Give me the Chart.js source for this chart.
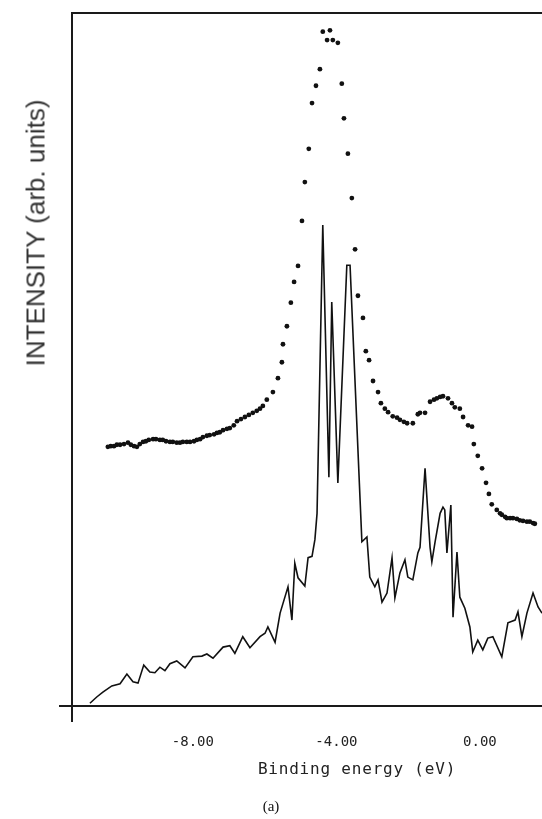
<!DOCTYPE html>
<html>
<head>
<meta charset="utf-8">
<script src="https://cdn.jsdelivr.net/npm/chart.js@4/dist/chart.umd.min.js"></script>
<style>
  body { margin: 0; background: #fff; }
  #wrap { position: relative; width: 542px; height: 819px; }
  #graf { position: absolute; left: 0; top: 0; }
  .ytitle {
    position: absolute; left: 36px; top: 233px;
    transform: translate(-50%, -50%) rotate(-90deg);
    font-family: "Liberation Sans", sans-serif; font-size: 26px; color: #333;
    white-space: nowrap;
  }
  .xtitle {
    position: absolute; left: 357px; top: 768px;
    transform: translate(-50%, -50%);
    font-family: "DejaVu Sans Mono", monospace; font-size: 16px; color: #222;
    letter-spacing: 0.8px; white-space: nowrap;
  }
  .legenda {
    position: absolute; left: 271px; top: 806px;
    transform: translate(-50%, -50%);
    font-family: "Liberation Serif", serif; font-size: 15px; color: #111;
  }
</style>
</head>
<body>
<div id="wrap">
  <canvas id="graf" width="542" height="819"></canvas>
  <div class="ytitle">INTENSITY (arb. units)</div>
  <div class="xtitle">Binding energy (eV)</div>
  <div class="legenda">(a)</div>
</div>
<script>
// pontos (curva de cima)
const energiaPontos = [
  -10.37, -10.29, -10.20, -10.12, -10.03, -9.92, -9.81, -9.73, -9.64, -9.56,
  -9.48, -9.39, -9.31, -9.23, -9.11, -9.03, -8.92, -8.84, -8.75, -8.64,
  -8.56, -8.45, -8.36, -8.28, -8.17, -8.08, -7.97, -7.89, -7.80, -7.72,
  -7.61, -7.53, -7.41, -7.33, -7.25, -7.16, -7.05, -6.97, -6.86, -6.77,
  -6.66, -6.55, -6.44, -6.33, -6.22, -6.13, -6.05, -5.94,
  -5.77, -5.63, -5.52, -5.49, -5.38, -5.27, -5.18, -5.07, -4.96, -4.88,
  -4.77, -4.68, -4.57, -4.46, -4.38, -4.26, -4.18, -4.10, -3.96, -3.85,
  -3.79, -3.68, -3.57, -3.48, -3.40, -3.26, -3.18, -3.09, -2.98, -2.84,
  -2.76, -2.65, -2.56, -2.43, -2.31, -2.23, -2.12, -2.03, -1.87, -1.73,
  -1.67, -1.53, -1.39, -1.28, -1.20, -1.11, -1.03, -0.89, -0.78, -0.70,
  -0.56, -0.47, -0.33, -0.22, -0.17, -0.06, 0.06, 0.17, 0.25, 0.33,
  0.47, 0.56, 0.61, 0.70, 0.75, 0.84, 0.92, 1.03, 1.11, 1.20,
  1.31, 1.39, 1.48, 1.53
];
const intensidadePontos = [
  37.4, 37.5, 37.5, 37.7, 37.7, 37.8, 38.0, 37.7, 37.5, 37.4,
  37.8, 38.1, 38.2, 38.4, 38.5, 38.5, 38.4, 38.4, 38.2, 38.1,
  38.1, 38.0, 38.0, 38.1, 38.1, 38.1, 38.2, 38.4, 38.5, 38.8,
  39.0, 39.1, 39.2, 39.4, 39.5, 39.8, 40.0, 40.1, 40.5, 41.1,
  41.4, 41.7, 42.0, 42.3, 42.6, 42.9, 43.3, 44.2,
  45.3, 47.3, 49.6, 52.2, 54.8, 58.2, 61.2, 63.5, 70.0, 75.6,
  80.4, 87.0, 89.5, 91.9, 97.3, 96.1, 97.5, 96.1, 95.7, 89.8,
  84.8, 79.7, 73.3, 65.9, 59.2, 56.0, 51.2, 49.9, 46.9, 45.3,
  43.7, 42.9, 42.4, 41.8, 41.6, 41.3, 41.0, 40.8, 40.8, 42.1,
  42.3, 42.3, 43.9, 44.2, 44.4, 44.6, 44.7, 44.4, 43.7, 43.1,
  42.9, 41.7, 40.5, 40.3, 37.8, 36.1, 34.3, 32.2, 30.6, 29.1,
  28.3, 27.8, 27.6, 27.3, 27.1, 27.1, 27.1, 27.0, 26.8, 26.7,
  26.6, 26.6, 26.4, 26.3
];

// linha (curva de baixo)
const energiaLinha = [
  -10.87, -10.68, -10.51, -10.26, -10.03, -9.84, -9.67, -9.53, -9.37, -9.20,
  -9.06, -8.92, -8.78, -8.64, -8.45, -8.22, -8.00, -7.75, -7.61, -7.44,
  -7.16, -6.97, -6.83, -6.61, -6.41, -6.13, -5.99, -5.91, -5.71, -5.57,
  -5.35, -5.24, -5.16, -5.07, -4.88, -4.79, -4.68, -4.60, -4.54, -4.38,
  -4.21, -4.13, -3.96, -3.71, -3.62, -3.34, -3.29, -3.15, -3.07, -2.93,
  -2.84, -2.73, -2.59, -2.45, -2.37, -2.23, -2.09, -2.01, -1.87, -1.73,
  -1.67, -1.53, -1.39, -1.34, -1.25, -1.11, -1.03, -0.98, -0.92, -0.81,
  -0.75, -0.64, -0.56, -0.42, -0.28, -0.20, -0.06, 0.08, 0.22, 0.36,
  0.61, 0.78, 0.98, 1.06, 1.17, 1.31, 1.48, 1.62, 1.73
];
const intensidadeLinha = [
  0.4, 1.3, 2.0, 2.9, 3.2, 4.6, 3.5, 3.3, 5.9, 4.9,
  4.8, 5.6, 5.1, 6.1, 6.5, 5.5, 7.1, 7.2, 7.5, 6.9,
  8.5, 8.7, 7.6, 10.0, 8.4, 10.0, 10.5, 11.4, 9.2, 13.4,
  17.2, 12.4, 20.6, 18.5, 17.3, 21.4, 21.6, 24.0, 27.8, 69.4,
  33.0, 58.3, 32.2, 63.6, 63.6, 29.7, 23.7, 24.4, 18.6, 17.2,
  18.2, 15.0, 16.3, 21.4, 15.6, 19.2, 21.1, 18.6, 18.2, 22.1,
  22.9, 34.3, 22.9, 20.8, 23.7, 27.8, 28.7, 28.3, 22.1, 29.0,
  12.8, 22.2, 15.7, 14.1, 11.4, 7.8, 9.5, 8.1, 9.8, 10.0,
  7.1, 12.0, 12.4, 13.6, 10.0, 13.4, 16.3, 14.3, 13.4
];

const ticksEnergia = [-8, -4, 0];

const pontos = energiaPontos.map((e, i) => ({ x: e, y: intensidadePontos[i] }));
const linha = energiaLinha.map((e, i) => ({ x: e, y: intensidadeLinha[i] }));

// desenha a moldura, o cruzamento dos eixos e os rótulos
const moldura = {
    id: 'moldura',
    afterDraw(chart) {
        const { ctx, chartArea: a, scales } = chart;
        ctx.save();
        ctx.strokeStyle = '#1a1a1a';
        ctx.lineWidth = 2;
        ctx.beginPath();
        ctx.moveTo(a.left, a.top);
        ctx.lineTo(a.right, a.top);
        ctx.moveTo(a.left, a.top - 1);
        ctx.lineTo(a.left, a.bottom + 16);
        ctx.moveTo(a.left - 13, a.bottom);
        ctx.lineTo(a.right, a.bottom);
        ctx.stroke();

        ctx.fillStyle = '#222';
        ctx.font = '14px "DejaVu Sans Mono"';
        ctx.textAlign = 'center';
        ctx.textBaseline = 'middle';
        ticksEnergia.forEach(v => {
            ctx.fillText(v.toFixed(2), scales.x.getPixelForValue(v), a.bottom + 36);
        });
        ctx.restore();
    }
};

new Chart(document.getElementById('graf').getContext('2d'), {
    type: 'scatter',
    data: {
        datasets: [
            {
                data: pontos,
                showLine: false,
                pointRadius: 2.4,
                pointBackgroundColor: '#111',
                pointBorderWidth: 0
            },
            {
                data: linha,
                showLine: true,
                borderColor: '#111',
                borderWidth: 1.6,
                pointRadius: 0,
                tension: 0
            }
        ]
    },
    options: {
        responsive: false,
        devicePixelRatio: 1,
        animation: false,
        layout: { autoPadding: false, padding: { left: 72, top: 13, right: 0, bottom: 113 } },
        plugins: { legend: { display: false }, tooltip: { enabled: false } },
        scales: {
            x: { type: 'linear', min: -11.37, max: 1.73, display: false },
            y: { min: 0, max: 100, display: false }
        }
    },
    plugins: [moldura]
});
</script>
</body>
</html>
